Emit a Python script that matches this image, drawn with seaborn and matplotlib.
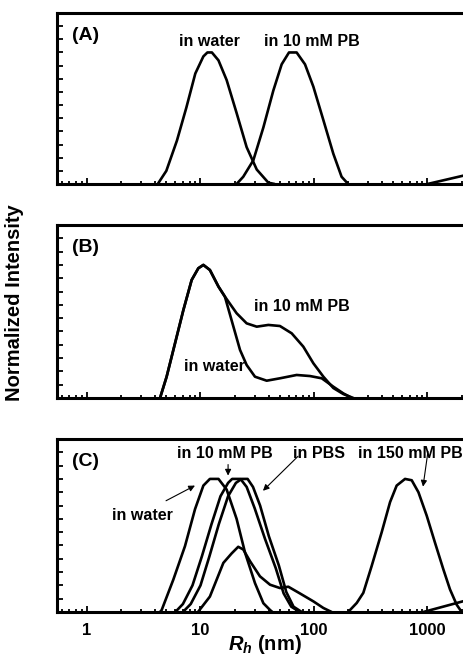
import numpy as np
import seaborn as sns
import matplotlib.pyplot as plt
from matplotlib.ticker import LogLocator, MultipleLocator, NullFormatter, FixedLocator, FixedFormatter

# ---------------- data (Rh in nm, normalized intensity) ----------------
# panel A
a_water_x = [4.2, 5.0, 6.2, 7.5, 9.0, 10.6, 11.5, 12.6, 14.4, 17.0, 20.8, 25.5, 31.3, 39.6, 45.0]
a_water_y = [0.0, 0.10, 0.33, 0.58, 0.84, 0.97, 1.0, 1.0, 0.94, 0.79, 0.54, 0.28, 0.11, 0.01, 0.0]
a_pb_x = [20.8, 23.8, 29.2, 35.8, 43.8, 51.9, 60.2, 70.3, 83.3, 98.7, 121, 148, 175, 200]
a_pb_y = [0.0, 0.055, 0.18, 0.43, 0.71, 0.91, 1.0, 1.0, 0.91, 0.74, 0.485, 0.23, 0.055, 0.0]
a_tail_x = [1000, 2500]
a_tail_y = [0.0, 0.08]

# panel B
b_water_x = [4.4, 5.03, 5.96, 7.06, 8.36, 9.57, 10.6, 12.1, 14.4, 16.4, 19.5, 22.3, 25.5, 30.2,
             38.3, 50.1, 70.3, 92.2, 117, 148, 181, 215]
b_water_y = [0.0, 0.16, 0.41, 0.66, 0.887, 0.975, 1.0, 0.962, 0.837, 0.762, 0.536, 0.361, 0.248, 0.16,
             0.13, 0.148, 0.173, 0.165, 0.148, 0.085, 0.035, 0.0]
b_pb_x = [4.4, 5.03, 5.96, 7.06, 8.36, 9.57, 10.6, 12.1, 14.4, 16.4, 20.8, 25.5, 31.3, 39.6,
          50.1, 63.6, 80.5, 98.7, 121, 148, 181, 222]
b_pb_y = [0.0, 0.16, 0.41, 0.66, 0.887, 0.975, 1.0, 0.962, 0.837, 0.762, 0.637, 0.561, 0.536, 0.549,
          0.541, 0.486, 0.386, 0.261, 0.16, 0.075, 0.03, 0.0]

# panel C
c_water_x = [4.4, 4.55, 5.76, 7.3, 8.95, 10.6, 12.1, 14.4, 17.0, 20.8, 24.7, 30.2, 35.8, 41.0, 43.0]
c_water_y = [0.0, 0.015, 0.243, 0.495, 0.773, 0.95, 1.0, 1.0, 0.92, 0.70, 0.445, 0.217, 0.066, 0.015, 0.0]
c_pb_x = [6.0, 7.0, 8.5, 10.3, 12.5, 15.0, 17.5, 19.0, 22.5, 25.5, 30.0, 37.0, 46.0, 54.0, 63.0, 75.0]
c_pb_y = [0.0, 0.06, 0.2, 0.42, 0.66, 0.87, 0.97, 1.0, 1.0, 0.94, 0.78, 0.55, 0.33, 0.14, 0.04, 0.0]
c_pbs_x = [7.0, 8.2, 10.0, 12.0, 14.5, 17.5, 20.5, 23.0, 26.0, 29.0, 33.5, 40.0, 49.0, 57.0, 66.0, 78.0]
c_pbs_y = [0.0, 0.06, 0.2, 0.42, 0.66, 0.87, 0.97, 1.0, 1.0, 0.94, 0.8, 0.57, 0.35, 0.15, 0.04, 0.0]
c_low_x = [9.5, 12.1, 15.9, 18.8, 21.5, 23.8, 27.3, 33.4, 41.0, 50.1, 59.4, 75.0, 98.7, 121, 143]
c_low_y = [0.0, 0.116, 0.369, 0.44, 0.49, 0.47, 0.382, 0.268, 0.205, 0.18, 0.19, 0.14, 0.08, 0.03, 0.0]
c_150_x = [200, 238, 272, 322, 395, 468, 535, 634, 726, 832, 984, 1165, 1380, 1578, 1807, 2000]
c_150_y = [0.0, 0.068, 0.144, 0.345, 0.6, 0.826, 0.95, 1.0, 0.99, 0.9, 0.724, 0.52, 0.32, 0.17, 0.055, 0.0]
c_tail_x = [920, 2500]
c_tail_y = [0.0, 0.1]

panel_names = ["(A)", "(B)", "(C)"]
x_tick_vals = [1, 10, 100, 1000]
x_tick_text = ["1", "10", "100", "1000"]

# ---------------- style ----------------
sns.set_style("ticks")
plt.rcParams['font.family'] = ['Liberation Sans', 'DejaVu Sans']
plt.rcParams['font.weight'] = 'bold'
plt.rcParams['text.color'] = 'k'
plt.rcParams['xtick.color'] = 'k'
plt.rcParams['ytick.color'] = 'k'
plt.rcParams['axes.labelcolor'] = 'k'
plt.rcParams['mathtext.fontset'] = 'custom'
plt.rcParams['mathtext.it'] = 'Liberation Sans:italic:bold'
plt.rcParams['mathtext.rm'] = 'Liberation Sans:bold'

W, H = 464, 670
fig = plt.figure(figsize=(W / 100, H / 100), dpi=100)

left_px = 57
right_px = 87 + 113.5 * np.log10(2500)
tops = [13, 225, 439]
bottoms = [184, 398, 612]

axes = []
for top, bot in zip(tops, bottoms):
    ax = fig.add_axes([left_px / W, 1 - bot / H, (right_px - left_px) / W, (bot - top) / H])
    axes.append(ax)

lw = 1.9
for ax in axes:
    ax.set_xscale('log')
    ax.set_xlim(10 ** (-(87 - left_px) / 113.5), 2500)
    ax.set_ylim(0, 1.3)
    for sp in ax.spines.values():
        sp.set_linewidth(2.2)
        sp.set_color('k')
    ax.yaxis.set_major_locator(MultipleLocator(0.1))
    ax.yaxis.set_major_formatter(NullFormatter())
    ax.xaxis.set_major_locator(FixedLocator(x_tick_vals))
    ax.xaxis.set_major_formatter(NullFormatter())
    ax.xaxis.set_minor_locator(LogLocator(base=10, subs=np.arange(2, 10)))
    ax.xaxis.set_minor_formatter(NullFormatter())
    ax.tick_params(axis='both', which='major', direction='in', length=4, width=1.3, color='k')
    ax.tick_params(axis='x', which='minor', direction='in', length=2.5, width=1.3, color='k')

# panel A
ax = axes[0]
for xs, ys in [(a_water_x, a_water_y), (a_pb_x, a_pb_y), (a_tail_x, a_tail_y)]:
    sns.lineplot(x=xs, y=ys, ax=ax, color='k', lw=lw, sort=False, estimator=None)
ax.text(12, 1.083, "in water", ha='center', va='center', fontsize=11.5, fontweight='bold')
ax.text(95.5, 1.083, "in 10 mM PB", ha='center', va='center', fontsize=11.5, fontweight='bold')

# panel B
ax = axes[1]
for xs, ys in [(b_water_x, b_water_y), (b_pb_x, b_pb_y)]:
    sns.lineplot(x=xs, y=ys, ax=ax, color='k', lw=lw, sort=False, estimator=None)
ax.text(78, 0.684, "in 10 mM PB", ha='center', va='center', fontsize=11.5, fontweight='bold')
ax.text(13.4, 0.235, "in water", ha='center', va='center', fontsize=11.5, fontweight='bold')

# panel C
ax = axes[2]
for xs, ys in [(c_water_x, c_water_y), (c_pb_x, c_pb_y), (c_pbs_x, c_pbs_y),
               (c_low_x, c_low_y), (c_150_x, c_150_y), (c_tail_x, c_tail_y)]:
    sns.lineplot(x=xs, y=ys, ax=ax, color='k', lw=lw, sort=False, estimator=None)
ax.text(16.4, 1.192, "in 10 mM PB", ha='center', va='center', fontsize=11.5, fontweight='bold')
ax.text(111, 1.192, "in PBS", ha='center', va='center', fontsize=11.5, fontweight='bold')
ax.text(244, 1.192, "in 150 mM PB", ha='left', va='center', fontsize=11.5, fontweight='bold')
ax.text(3.08, 0.722, "in water", ha='center', va='center', fontsize=11.5, fontweight='bold')
arrows = [((8.94, 0.95), (4.97, 0.836)),
          ((17.5, 1.025), (17.5, 1.108)),
          ((35.5, 0.911), (72.3, 1.17)),
          ((913, 0.942), (1010, 1.207))]
for head, tail in arrows:
    ax.annotate('', xy=head, xytext=tail,
                arrowprops=dict(arrowstyle='-|>', lw=0.8, color='k', mutation_scale=9,
                                shrinkA=0, shrinkB=0))
ax.xaxis.set_major_formatter(FixedFormatter(x_tick_text))
ax.tick_params(axis='x', which='major', labelsize=12, pad=8)
for lab in ax.get_xticklabels():
    lab.set_fontweight('bold')

for ax, name in zip(axes, panel_names):
    ax.text(15 / (right_px - left_px), 1 - 22 / 171, name, transform=ax.transAxes,
            ha='left', va='center', fontsize=14, fontweight='bold')

fig.text(15 / W, 1 - 303 / H, "Normalized Intensity", rotation=90, ha='center', va='center',
         fontsize=14.5, fontweight='bold')
fig.text(265 / W, 1 - 645 / H, r"$\mathit{R_h}$ (nm)", ha='center', va='center',
         fontsize=14.5, fontweight='bold')

fig.savefig("out.png", dpi=100)
